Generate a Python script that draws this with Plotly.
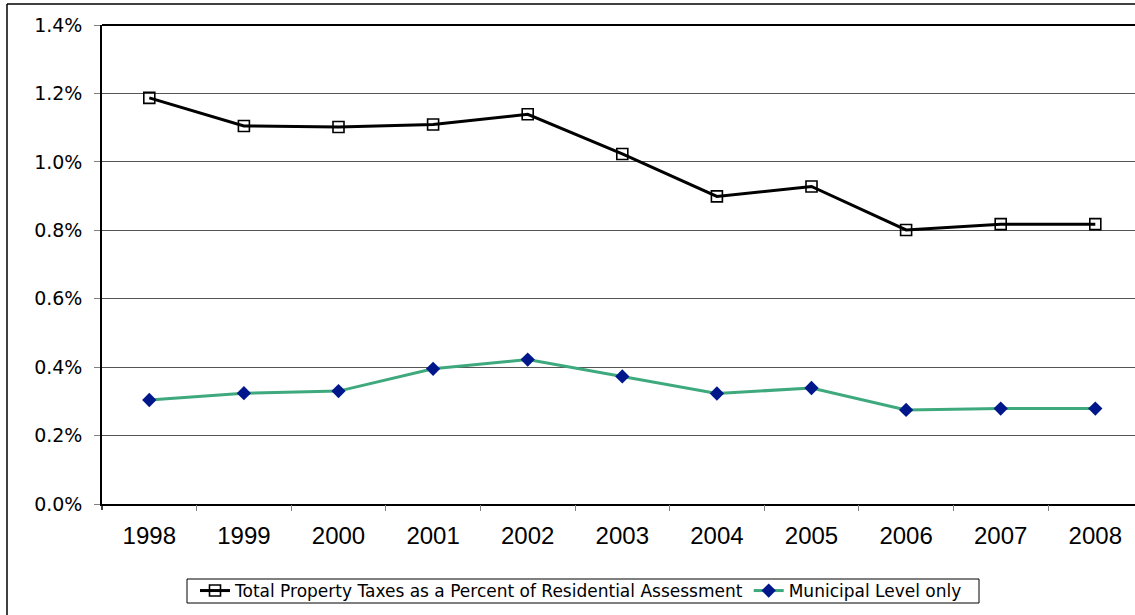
import plotly.graph_objects as go

years = [1998, 1999, 2000, 2001, 2002, 2003, 2004, 2005, 2006, 2007, 2008]
year_labels = ["1998", "1999", "2000", "2001", "2002", "2003", "2004", "2005", "2006", "2007", "2008"]
total_pct = [1.187, 1.105, 1.102, 1.109, 1.139, 1.023, 0.899, 0.928, 0.801, 0.818, 0.818]
municipal_pct = [0.304, 0.324, 0.330, 0.395, 0.422, 0.373, 0.323, 0.339, 0.275, 0.279, 0.279]
y_ticks = [0.0, 0.2, 0.4, 0.6, 0.8, 1.0, 1.2, 1.4]
y_labels = ["0.0%", "0.2%", "0.4%", "0.6%", "0.8%", "1.0%", "1.2%", "1.4%"]

W, H = 1135, 615
ml, mr, mt, mb = 102, 0, 25, 111
pw, ph = W - ml - mr, H - mt - mb
step = 94.6  # pixels per category
x_lo = years[0] - 0.5
x_hi = x_lo + pw / step
boundaries = [y + 0.5 for y in years[:-1]]

def px_x(x):
    return (x - ml) / pw

def px_y(y):
    return (H - mb - y) / ph

fig = go.Figure()
fig.add_trace(go.Scatter(
    x=years, y=total_pct, mode="lines+markers",
    name="Total Property Taxes as a Percent of Residential Assessment",
    line=dict(color="black", width=3),
    marker=dict(symbol="square-open", size=11, color="black", line=dict(width=1.6)),
))
fig.add_trace(go.Scatter(
    x=years, y=municipal_pct, mode="lines+markers",
    name="Municipal Level only",
    line=dict(color="#3FA97E", width=3),
    marker=dict(symbol="diamond", size=11, color="#00178C"),
))
fig.add_trace(go.Scatter(
    x=[years[0]], y=[None], xaxis="x2", yaxis="y", mode="lines",
    showlegend=False, hoverinfo="skip",
))

fig.update_layout(
    width=W, height=H,
    margin=dict(l=ml, r=mr, t=mt, b=mb),
    paper_bgcolor="white", plot_bgcolor="white",
    showlegend=True,
    legend=dict(
        orientation="h", x=px_x(581), y=px_y(591), xanchor="center", yanchor="middle",
        borderwidth=0, bgcolor="rgba(0,0,0,0)",
        font=dict(family="DejaVu Sans", size=17, color="black"),
        itemwidth=30, tracegroupgap=0,
    ),
    xaxis=dict(
        range=[x_lo, x_hi], tickmode="array", tickvals=years, ticktext=year_labels,
        ticks="", showgrid=False, showline=True, linecolor="black", linewidth=1.5,
        tickfont=dict(family="Liberation Sans", size=24, color="black"),
        ticklabelstandoff=9, zeroline=False, fixedrange=True,
    ),
    xaxis2=dict(
        range=[x_lo, x_hi], overlaying="x", anchor="y", side="bottom",
        tickmode="array", tickvals=boundaries, showticklabels=False,
        ticks="outside", ticklen=6, tickcolor="#808080", tickwidth=1,
        showgrid=False, showline=False, zeroline=False, fixedrange=True,
    ),
    yaxis=dict(
        range=[0, 1.4], tickvals=y_ticks, ticktext=y_labels,
        ticks="outside", ticklen=6, tickcolor="#808080",
        showgrid=True, gridcolor="#555555", gridwidth=1,
        showline=True, linecolor="black", linewidth=1.5,
        tickfont=dict(family="DejaVu Sans", size=19, color="black"),
        ticklabelstandoff=8, zeroline=False,
        fixedrange=True,
    ),
    shapes=[
        dict(type="line", xref="paper", yref="paper", x0=px_x(7), x1=px_x(7), y0=px_y(4), y1=px_y(H + 5),
             line=dict(color="black", width=1.5)),
        dict(type="line", xref="paper", yref="paper", x0=px_x(7), x1=px_x(W + 5), y0=px_y(4), y1=px_y(4),
             line=dict(color="black", width=1.5)),
        dict(type="line", xref="paper", yref="paper", x0=0, x1=1, y0=1, y1=1,
             line=dict(color="black", width=2)),
        dict(type="line", xref="paper", yref="paper", x0=0, x1=0, y0=0, y1=px_y(H - mb + 6),
             line=dict(color="black", width=1.5)),
        dict(type="rect", xref="paper", yref="paper", x0=px_x(187), x1=px_x(979), y0=px_y(579), y1=px_y(603),
             line=dict(color="black", width=1), fillcolor="rgba(0,0,0,0)", layer="below"),
    ],
)

fig.write_html("out.html")
